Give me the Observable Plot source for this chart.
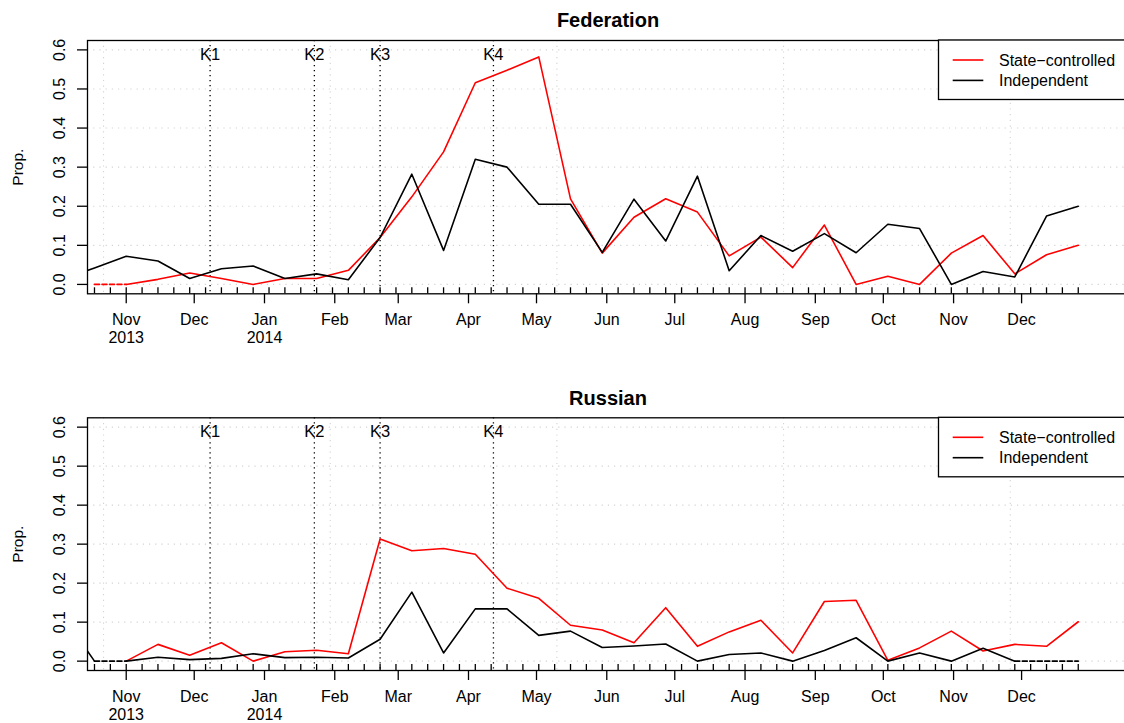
<!DOCTYPE html>
<html><head><meta charset="utf-8">
<script src="https://cdn.jsdelivr.net/npm/d3@7"></script>
<script src="https://cdn.jsdelivr.net/npm/@observablehq/plot@0.6"></script>
<style>
html,body{margin:0;padding:0;background:#fff;overflow:hidden}
#wrap{width:1124px;height:723px;overflow:hidden;position:relative;background:#fff}
#wrap svg{display:block;max-width:none !important;height:auto}
</style></head><body><div id="wrap"></div>
<script>
// ---- data ----
const dates = ["2013-10-04","2013-10-18","2013-11-01","2013-11-15","2013-11-29","2013-12-13","2013-12-27",
  "2014-01-10","2014-01-24","2014-02-07","2014-02-21","2014-03-07","2014-03-21","2014-04-04","2014-04-18",
  "2014-05-02","2014-05-16","2014-05-30","2014-06-13","2014-06-27","2014-07-11","2014-07-25","2014-08-08",
  "2014-08-22","2014-09-05","2014-09-19","2014-10-03","2014-10-17","2014-10-31","2014-11-14","2014-11-28",
  "2014-12-12","2014-12-26"];

const fedState = [null, 0, 0, 0.013, 0.029, 0.015, 0, 0.015, 0.015, 0.036, 0.12, 0.224, 0.339, 0.516, 0.548,
  0.582, 0.219, 0.080, 0.172, 0.219, 0.185, 0.073, 0.121, 0.043, 0.152, 0, 0.021, 0, 0.080, 0.125, 0.027, 0.076, 0.1];
const fedIndep = [0.0135, 0.042, 0.072, 0.06, 0.015, 0.04, 0.047, 0.015, 0.027, 0.012, 0.12, 0.282, 0.087, 0.32, 0.30,
  0.205, 0.205, 0.082, 0.218, 0.111, 0.277, 0.035, 0.125, 0.085, 0.13, 0.081, 0.154, 0.143, 0, 0.033, 0.019, 0.175, 0.2];

const rusState = [null, null, 0, 0.043, 0.015, 0.047, 0, 0.024, 0.028, 0.019, 0.313, 0.283, 0.289, 0.274, 0.187,
  0.161, 0.092, 0.08, 0.047, 0.137, 0.038, 0.075, 0.105, 0.021, 0.153, 0.156, 0.002, 0.034, 0.077, 0.026, 0.043, 0.038, 0.101];
const rusIndep = [0.116, 0, 0, 0.010, 0.004, 0.007, 0.019, 0.009, 0.010, 0.008, 0.056, 0.177, 0.021, 0.134, 0.134,
  0.066, 0.077, 0.035, 0.039, 0.044, 0, 0.017, 0.021, 0, 0.027, 0.06, 0, 0.021, 0, 0.033, 0, 0, 0];

const seriesNames = ["State\u2212controlled", "Independent"];
const seriesColors = ["#ff0000", "#000000"];

const kDates = ["2013-12-08", "2014-01-23", "2014-02-21", "2014-04-12"];
const kLabels = ["K1", "K2", "K3", "K4"];

const monthTicks = ["2013-11-01","2013-12-01","2014-01-01","2014-02-01","2014-03-01","2014-04-01","2014-05-01",
  "2014-06-01","2014-07-01","2014-08-01","2014-09-01","2014-10-01","2014-11-01","2014-12-01"];
const monthLabels = ["Nov\n2013","Dec","Jan\n2014","Feb","Mar","Apr","May","Jun","Jul","Aug","Sep","Oct","Nov","Dec"];
const gridDates = ["2013-10-22","2014-01-30","2014-05-10","2014-08-18","2014-11-26"];
const yTicks = [0, 0.1, 0.2, 0.3, 0.4, 0.5, 0.6];

// ---- layout ----
const D = s => new Date(s);
const xDomain = [new Date(Date.UTC(2013, 9, 14, 22)), new Date(Date.UTC(2015, 0, 17, 4))];
const yPad = 0.04 * (yTicks[yTicks.length - 1] - yTicks[0]);
const yDomain = [yTicks[0] - yPad, yTicks[yTicks.length - 1] + yPad];
const weekTicks = d3.utcFriday.range(D("2013-10-18"), D("2014-12-27"));
const FONT = "'Liberation Sans', Arial, Helvetica, sans-serif";

function runs(vals) {
  // split polyline into runs; segments between two zero values are dashed
  const solid = [], dashed = [];
  let cur = null, curType = null, g = 0;
  for (let i = 0; i < vals.length - 1; i++) {
    const a = vals[i], b = vals[i + 1];
    if (a == null || b == null) { cur = null; continue; }
    const type = (a === 0 && b === 0) ? "dashed" : "solid";
    const target = type === "dashed" ? dashed : solid;
    if (cur === null || curType !== type) {
      g++; cur = g; curType = type;
      target.push({d: D(dates[i]), v: a, g});
    }
    target.push({d: D(dates[i + 1]), v: b, g});
  }
  return {solid, dashed};
}

function legendMark(index, scales, values, dims) {
  const right = dims.width - dims.marginRight;
  const top = dims.marginTop;
  const x0 = 938.5, h = 59.5;
  const g = d3.create("svg:g").attr("text-anchor", "start");
  g.append("rect").attr("x", x0).attr("y", top).attr("width", right - x0).attr("height", h)
    .attr("fill", "white").attr("stroke", "black").attr("stroke-width", 1.3);
  seriesNames.forEach((name, i) => {
    const y = top + 20 + 20.4 * i;
    g.append("line").attr("x1", 952.7).attr("x2", 983.3).attr("y1", y).attr("y2", y)
      .attr("stroke", seriesColors[i]).attr("stroke-width", 1.6);
    g.append("text").attr("x", 999).attr("y", y).attr("dy", "0.35em").attr("text-anchor", "start")
      .attr("font-size", 16).attr("font-family", FONT).attr("fill", "black").text(name);
  });
  return g.node();
}

function panel(title, state, indep, height, mt, mb) {
  const rs = runs(state), ri = runs(indep);
  const lineOpts = (color) => ({x: "d", y: "v", z: "g", stroke: color, strokeWidth: 1.6, clip: true, curve: "linear"});
  return Plot.plot({
    width: 1132, height, marginLeft: 87, marginRight: 4, marginTop: mt, marginBottom: mb,
    x: {type: "utc", domain: xDomain, axis: null},
    y: {domain: yDomain, axis: null},
    style: {fontFamily: FONT, background: "white", color: "black", maxWidth: "none"},
    marks: [
      // grid
      Plot.ruleY(yTicks, {y: d => d, stroke: "#d3d3d3", strokeWidth: 1.1, strokeDasharray: "1.2,5"}),
      Plot.ruleX(gridDates, {x: d => D(d), stroke: "#d3d3d3", strokeWidth: 1.1, strokeDasharray: "1.2,4.5"}),
      // event lines
      Plot.ruleX(kDates, {x: d => D(d), stroke: "black", strokeWidth: 1.3, strokeDasharray: "1.3,3.7"}),
      Plot.text(kDates, {x: d => D(d), text: (d, i) => kLabels[i], frameAnchor: "top", dy: 14,
        lineAnchor: "middle", fontSize: 16.5, fill: "black"}),
      // series
      Plot.line(rs.solid, lineOpts(seriesColors[0])),
      Plot.line(rs.dashed, {...lineOpts(seriesColors[0]), strokeDasharray: "5,2.5"}),
      Plot.line(ri.solid, lineOpts(seriesColors[1])),
      Plot.line(ri.dashed, {...lineOpts(seriesColors[1]), strokeDasharray: "5,2.5"}),
      // frame
      Plot.frame({stroke: "black", strokeWidth: 1.3}),
      // y axis
      Plot.ruleY(yTicks, {y: d => d, x1: () => xDomain[0], x2: () => xDomain[0], insetLeft: -10,
        stroke: "black", strokeWidth: 1.3}),
      Plot.text(yTicks, {y: d => d, text: d => d.toFixed(1), frameAnchor: "left", dx: -28, rotate: -90,
        textAnchor: "middle", lineAnchor: "middle", fontSize: 16, fill: "black"}),
      Plot.text(["Prop."], {text: d => d, frameAnchor: "left", dx: -69, rotate: -90,
        textAnchor: "middle", lineAnchor: "middle", fontSize: 15.5, fill: "black"}),
      // x axis
      Plot.ruleX(weekTicks, {x: d => d, y1: () => yDomain[0], y2: () => yDomain[0], insetTop: -6,
        stroke: "black", strokeWidth: 1.3}),
      Plot.ruleX(monthTicks, {x: d => D(d), y1: () => yDomain[0], y2: () => yDomain[0], insetBottom: -10,
        stroke: "black", strokeWidth: 1.3}),
      Plot.text(monthTicks, {x: d => D(d), text: (d, i) => monthLabels[i], frameAnchor: "bottom", dy: 18,
        lineAnchor: "top", lineHeight: 1.15, fontSize: 16, fill: "black"}),
      // title
      Plot.text([title], {text: d => d, frameAnchor: "top", dy: -13.3, lineAnchor: "bottom",
        fontSize: 20, fontWeight: "bold", fill: "black"}),
      // legend
      legendMark
    ]
  });
}

const wrap = document.getElementById("wrap");
wrap.appendChild(panel("Federation", fedState, fedIndep, 361, 40, 67.7));
wrap.appendChild(panel("Russian", rusState, rusIndep, 362, 56.3, 53));
</script></body></html>
